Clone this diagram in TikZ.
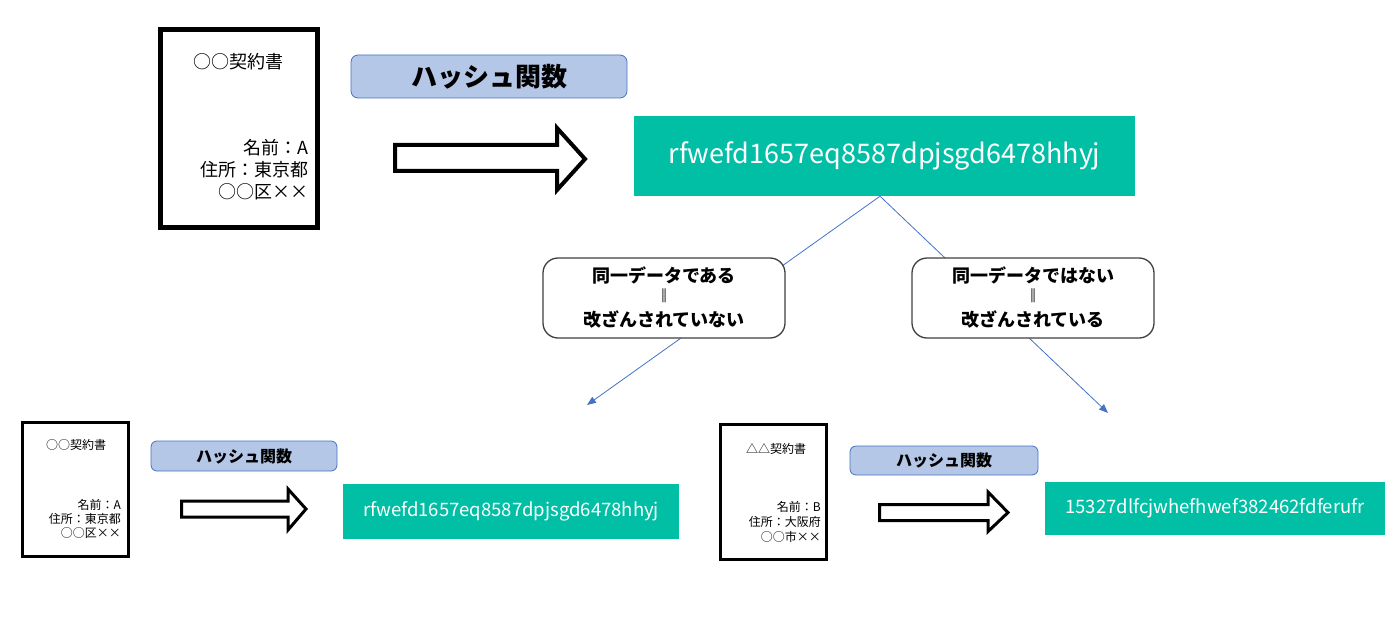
\documentclass[tikz,border=0pt]{standalone}
\usepackage{fontspec}
\setmainfont{Noto Sans CJK JP}
\newfontfamily\symfont{DejaVu Sans}
\usetikzlibrary{arrows.meta}
\definecolor{tealbox}{RGB}{0,191,165}
\definecolor{lblue}{RGB}{180,199,231}
\definecolor{bblue}{RGB}{68,114,196}
\definecolor{dgray}{RGB}{64,64,64}
\begin{document}
\begin{tikzpicture}[x=1pt,y=-1pt,
  docbig/.style={draw=black,fill=white,line width=5pt,inner sep=0pt},
  docsmall/.style={draw=black,fill=white,line width=3pt,inner sep=0pt},
  hashlabel/.style={draw=bblue,fill=lblue,line width=0.8pt,rounded corners=7pt,inner sep=0pt},
  hashval/.style={fill=tealbox,text=white,inner sep=0pt},
  decision/.style={draw=dgray,fill=white,line width=1.3pt,rounded corners=15pt,inner sep=0pt,minimum width=242pt,minimum height=80pt},
  txt/.style={inner sep=0pt,text=black},
  eqmark/.style={inner sep=0pt,text=dgray,font=\symfont\fontsize{14}{15}\selectfont},
  blockarrow/.style={draw=black,fill=white,line join=miter},
  link/.style={draw=bblue,line width=0.8pt,-{Triangle[length=9pt,width=7pt]}}
]
\useasboundingbox (0,0) rectangle (1396,639);

% ---------- top row ----------
\node[docbig,minimum width=157pt,minimum height=198pt] (doc1) at (239,128.5) {};
\node[txt,font=\fontsize{18}{22}\selectfont] (doc1t) at (238,62) {○○契約書};
\node[txt,align=right,anchor=east,font=\fontsize{18}{22}\selectfont] (doc1b) at (309,170) {名前：A\\住所：東京都\\○○区××};

\node[hashlabel,minimum width=276pt,minimum height=43pt] (hl1) at (489,76.5) {};
\node[txt,font=\bfseries\fontsize{26}{30}\selectfont] (hl1t) at (489,77) {ハッシュ関数};

\draw[blockarrow,line width=4pt] (395,145) -- (557,145) -- (557,128) -- (585,159) -- (557,190) -- (557,171) -- (395,171) -- cycle;

\node[hashval,minimum width=501pt,minimum height=80pt,font=\fontsize{27}{30}\selectfont] (hv1) at (884.5,156) {rfwefd1657eq8587dpjsgd6478hhyj};

% ---------- connectors ----------
\coordinate (endL) at (587,405);
\coordinate (endR) at (1108,413);
\draw[link] ([xshift=-4.5pt]hv1.south) -- (endL);
\draw[link] ([xshift=-4.5pt]hv1.south) -- (endR);

% ---------- decisions ----------
\node[decision] (decL) at (664,298) {};
\node[txt,font=\bfseries\fontsize{18}{20}\selectfont] (decL1) at (664,275) {同一データである};
\node[eqmark] (decL2) at (664,296) {‖};
\node[txt,font=\bfseries\fontsize{18}{20}\selectfont] (decL3) at (664,319) {改ざんされていない};

\node[decision] (decR) at (1033,298) {};
\node[txt,font=\bfseries\fontsize{18}{20}\selectfont] (decR1) at (1033,275) {同一データではない};
\node[eqmark] (decR2) at (1033,296) {‖};
\node[txt,font=\bfseries\fontsize{18}{20}\selectfont] (decR3) at (1033,319) {改ざんされている};

% ---------- bottom left ----------
\node[docsmall,minimum width=106pt,minimum height=134pt] (doc2) at (75.5,489.5) {};
\node[txt,font=\fontsize{12}{14}\selectfont] (doc2t) at (76,445) {○○契約書};
\node[txt,align=right,anchor=east,font=\fontsize{12}{14}\selectfont] (doc2b) at (121,519) {名前：A\\住所：東京都\\○○区××};

\node[hashlabel,minimum width=186pt,minimum height=30pt,rounded corners=6pt] (hl2) at (244,456) {};
\node[txt,font=\bfseries\fontsize{16}{18}\selectfont] (hl2t) at (244,456) {ハッシュ関数};

\draw[blockarrow,line width=3pt] (181.5,501) -- (288,501) -- (288,489) -- (306,509) -- (288,530) -- (288,517) -- (181.5,517) -- cycle;

\node[hashval,minimum width=336pt,minimum height=55pt,font=\fontsize{18.5}{20}\selectfont] (hv2) at (511,511.5) {rfwefd1657eq8587dpjsgd6478hhyj};

% ---------- bottom right ----------
\node[docsmall,minimum width=106pt,minimum height=135pt] (doc3) at (773.5,492) {};
\node[txt,font=\fontsize{12}{14}\selectfont] (doc3t) at (776,449) {△△契約書};
\node[txt,align=right,anchor=east,font=\fontsize{12}{15}\selectfont] (doc3b) at (821,522) {名前：B\\住所：大阪府\\○○市××};

\node[hashlabel,minimum width=188pt,minimum height=29pt,rounded corners=6pt] (hl3) at (944,460.5) {};
\node[txt,font=\bfseries\fontsize{16}{18}\selectfont] (hl3t) at (944,460.5) {ハッシュ関数};

\draw[blockarrow,line width=3pt] (879.5,504.5) -- (988,504.5) -- (988,492) -- (1008,512.5) -- (988,531.5) -- (988,520.5) -- (879.5,520.5) -- cycle;

\node[hashval,minimum width=340pt,minimum height=53pt,font=\fontsize{18.5}{20}\selectfont] (hv3) at (1215,508.5) {15327dlfcjwhefhwef382462fdferufr};
\end{tikzpicture}
\end{document}
